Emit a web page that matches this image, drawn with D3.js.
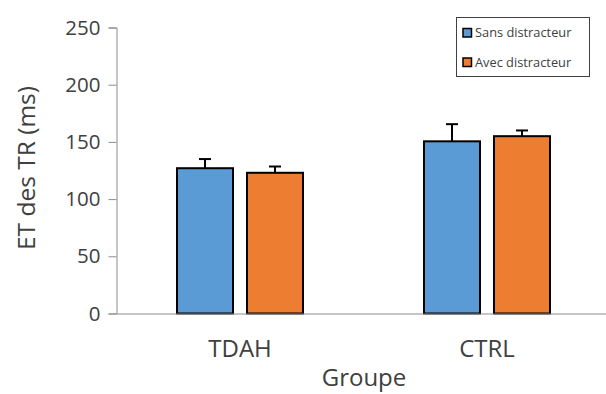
<!DOCTYPE html>
<html>
<head>
<meta charset="utf-8">
<script src="https://cdn.jsdelivr.net/npm/d3@7"></script>
<style>
  html, body { margin: 0; padding: 0; background: #ffffff; }
  svg { display: block; font-family: "Open Sans", "Noto Sans", sans-serif; }
</style>
</head>
<body>
<svg id="chart" width="606" height="394"></svg>
<script>
const categories = ["TDAH", "CTRL"];
const seriesNames = ["Sans distracteur", "Avec distracteur"];
const sansValues = [127, 150.5];
const avecValues = [123, 155];
const sansErrors = [8, 15];
const avecErrors = [5.5, 5];
const yTicks = [0, 50, 100, 150, 200, 250];
const colors = ["#5b9bd5", "#ed7d31"];

const svg = d3.select("#chart");
const y = d3.scaleLinear().domain([0, 250]).range([313.5, 27.5]);
const x0 = d3.scaleBand().domain(categories).range([116.5, 610.5])
  .paddingInner(0.49).paddingOuter(0.245);
const x1 = d3.scaleBand().domain(seriesNames).range([0, x0.bandwidth()]).paddingInner(0.2);

const data = categories.map((c, i) => ({
  cat: c,
  vals: [
    { s: seriesNames[0], v: sansValues[i], e: sansErrors[i], col: colors[0] },
    { s: seriesNames[1], v: avecValues[i], e: avecErrors[i], col: colors[1] }
  ]
}));

// Y axis
const yAxis = d3.axisLeft(y).tickValues(yTicks).tickSize(8).tickPadding(8);
const gy = svg.append("g").attr("transform", "translate(116.5,0)").call(yAxis);
gy.select(".domain").attr("stroke", "#8c8c8c").attr("stroke-width", 1);
gy.selectAll(".tick line").attr("stroke", "#8c8c8c");
gy.selectAll(".tick text").attr("fill", "#404040").style("font-size", "20.5px")
  .style("font-family", "'Open Sans', sans-serif");

// Bars
const groups = svg.append("g").selectAll("g").data(data).join("g")
  .attr("transform", d => `translate(${x0(d.cat)},0)`);
groups.selectAll("rect").data(d => d.vals).join("rect")
  .attr("x", d => x1(d.s))
  .attr("y", d => y(d.v))
  .attr("width", x1.bandwidth())
  .attr("height", d => y(0) - y(d.v))
  .attr("fill", d => d.col)
  .attr("stroke", "#000")
  .attr("stroke-width", 2);

// Error bars
groups.selectAll("line.err").data(d => d.vals).join("line").attr("class", "err")
  .attr("x1", d => x1(d.s) + x1.bandwidth() / 2)
  .attr("x2", d => x1(d.s) + x1.bandwidth() / 2)
  .attr("y1", d => y(d.v))
  .attr("y2", d => y(d.v + d.e))
  .attr("stroke", "#000").attr("stroke-width", 2);
groups.selectAll("line.cap").data(d => d.vals).join("line").attr("class", "cap")
  .attr("x1", d => x1(d.s) + x1.bandwidth() / 2 - 6)
  .attr("x2", d => x1(d.s) + x1.bandwidth() / 2 + 6)
  .attr("y1", d => y(d.v + d.e))
  .attr("y2", d => y(d.v + d.e))
  .attr("stroke", "#000").attr("stroke-width", 2);

// X axis baseline
const xAxis = d3.axisBottom(x0).tickSize(0).tickPadding(26);
const gx = svg.append("g").attr("transform", `translate(0,${y(0)})`).call(xAxis);
gx.select(".domain").attr("stroke", "#8c8c8c").attr("stroke-width", 1);
gx.selectAll(".tick text").attr("fill", "#404040").style("font-size", "24px")
  .style("font-family", "'Open Sans', sans-serif");

// Axis titles
svg.append("text").attr("x", 364).attr("y", 386)
  .attr("text-anchor", "middle").attr("fill", "#404040")
  .style("font-size", "24px").text("Groupe");
svg.append("text").attr("transform", "translate(35,168) rotate(-90)")
  .attr("text-anchor", "middle").attr("fill", "#404040")
  .style("font-size", "24.5px").text("ET des TR (ms)");

// Legend
const lg = svg.append("g");
lg.append("rect").attr("x", 456.5).attr("y", 17.5).attr("width", 133).attr("height", 59)
  .attr("fill", "#fff").attr("stroke", "#404040").attr("stroke-width", 1);
seriesNames.forEach((s, i) => {
  const yy = 33 + i * 29.5;
  lg.append("rect").attr("x", 463).attr("y", yy - 4.5).attr("width", 8.5).attr("height", 8.5)
    .attr("fill", colors[i]).attr("stroke", "#000").attr("stroke-width", 1.5);
  lg.append("text").attr("x", 475).attr("y", yy).attr("dy", "0.35em")
    .attr("fill", "#404040").style("font-size", "12.8px").text(s);
});
</script>
</body>
</html>
